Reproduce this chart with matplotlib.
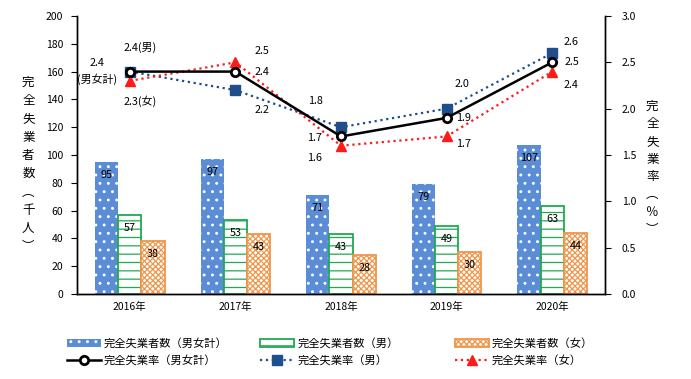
import matplotlib
matplotlib.use('Agg')
import matplotlib.pyplot as plt
from matplotlib.patches import Patch
import numpy as np

plt.rcParams['font.family'] = ['Noto Sans CJK JP', 'DejaVu Sans']
plt.rcParams['hatch.linewidth'] = 0.9

years = ['2016年', '2017年', '2018年', '2019年', '2020年']

# unemployed persons (thousand)
unemp_total = [95, 97, 71, 79, 107]
unemp_male = [57, 53, 43, 49, 63]
unemp_female = [38, 43, 28, 30, 44]

# unemployment rate (%)
rate_total = [2.4, 2.4, 1.7, 1.9, 2.5]
rate_male = [2.4, 2.2, 1.8, 2.0, 2.6]
rate_female = [2.3, 2.5, 1.6, 1.7, 2.4]

c_blue = '#5B8DD6'
c_green = '#1FAA50'
c_orange = '#F0964A'
c_navy = '#1F4E8C'
c_red = '#FF1A1A'

fig = plt.figure(figsize=(6.91, 3.79), dpi=100)
ax = fig.add_axes([0.1114, 0.2243, 0.7641, 0.7335])
ax2 = ax.twinx()

x = np.arange(len(years))
w = 0.22

# bars
b1 = ax.bar(x - w, unemp_total, w, color=c_blue, edgecolor='white', hatch='..', linewidth=0)
b2 = ax.bar(x, unemp_male, w, color='white', edgecolor=c_green, hatch='--', linewidth=0)
ax.bar(x, unemp_male, w, color='none', edgecolor=c_green, linewidth=1.3)
b3 = ax.bar(x + w, unemp_female, w, color='white', edgecolor=c_orange, hatch='xxxxxx', linewidth=0)
ax.bar(x + w, unemp_female, w, color='none', edgecolor=c_orange, linewidth=1.3)

for bars, vals in [(b1, unemp_total), (b2, unemp_male), (b3, unemp_female)]:
    for r, v in zip(bars, vals):
        ax.annotate(str(v), (r.get_x() + r.get_width() / 2, v), xytext=(0, -13),
                    textcoords='offset pixels', ha='center', va='center', fontsize=7.8)

# lines
l_male, = ax2.plot(x, rate_male, color=c_navy, linestyle=':', linewidth=1.6,
                   marker='s', markersize=6.5, zorder=3)
l_female, = ax2.plot(x, rate_female, color=c_red, linestyle=':', linewidth=1.6,
                     marker='^', markersize=7, zorder=3)
l_total, = ax2.plot(x, rate_total, color='black', linewidth=1.8,
                    marker='o', markersize=6, markerfacecolor='white',
                    markeredgecolor='black', markeredgewidth=2, zorder=4)

# rate labels: offsets in pixels from point
off_total = [(-33, 0), (27, 0), (-26, -2), (17, 0), (20, 0)]
off_male = [(10, 24), (27, -20), (-26, 26), (15, 25), (19, 11)]
off_female = [(10, -20), (27, 11), (-26, -12), (17, -8), (19, -13)]
for i in range(len(years)):
    t = f'{rate_total[i]:.1f}'
    m = f'{rate_male[i]:.1f}'
    f = f'{rate_female[i]:.1f}'
    if i == 0:
        t += '\n(男女計)'
        m += '(男)'
        f += '(女)'
    ax2.annotate(t, (x[i], rate_total[i]), xytext=off_total[i], textcoords='offset pixels',
                 ha='center', va='center', fontsize=7.8, linespacing=1.5)
    ax2.annotate(m, (x[i], rate_male[i]), xytext=off_male[i], textcoords='offset pixels',
                 ha='center', va='center', fontsize=7.8)
    ax2.annotate(f, (x[i], rate_female[i]), xytext=off_female[i], textcoords='offset pixels',
                 ha='center', va='center', fontsize=7.8)

# axes
ax.set_xlim(-0.5, len(years) - 0.5)
ax.set_ylim(0, 200)
ax.set_yticks(np.arange(0, 201, 20))
ax2.set_ylim(0, 3.0)
ax2.set_yticks(np.arange(0, 3.01, 0.5))
ax2.set_yticklabels([f'{v:.1f}' for v in np.arange(0, 3.01, 0.5)])
ax.set_xticks(x)
ax.set_xticklabels(years)
ax.tick_params(axis='x', length=0, pad=6, labelsize=7.5)
ax.tick_params(axis='y', direction='out', length=4, labelsize=7.5, pad=6)
ax2.tick_params(axis='y', direction='out', length=4, labelsize=7.5, pad=8)
for a in (ax, ax2):
    a.spines['top'].set_visible(False)
    for s in ('left', 'right', 'bottom'):
        a.spines[s].set_linewidth(1.0)

lab_l = '\n'.join(list('完全失業者数') + ['︵', '千', '人', '︶'])
fig.text(0.041, 0.566, lab_l, ha='center', va='center', fontsize=9, linespacing=1.53)
lab_r = '\n'.join(list('完全失業率') + ['︵', '％', '︶'])
fig.text(0.944, 0.557, lab_r, ha='center', va='center', fontsize=9, linespacing=1.47)

# legend: three fixed-position columns
leg_cols = [
    ([b1, l_total], ['完全失業者数（男女計）', '完全失業率（男女計）'], 67),
    ([Patch(facecolor='white', edgecolor=c_green, hatch='--', linewidth=1.3), l_male],
     ['完全失業者数（男）', '完全失業率（男）'], 260),
    ([Patch(facecolor='white', edgecolor=c_orange, hatch='xxxxxx', linewidth=1.3), l_female],
     ['完全失業者数（女）', '完全失業率（女）'], 455),
]
for hs, ls, px in leg_cols:
    fig.legend(hs, ls, loc='center left', bbox_to_anchor=(px / 691, 0.071),
               frameon=False, fontsize=8.1, handlelength=3.0, handleheight=0.6,
               handletextpad=0.3, labelspacing=0.55, borderpad=0, borderaxespad=0)

fig.savefig('out.png', dpi=100)
